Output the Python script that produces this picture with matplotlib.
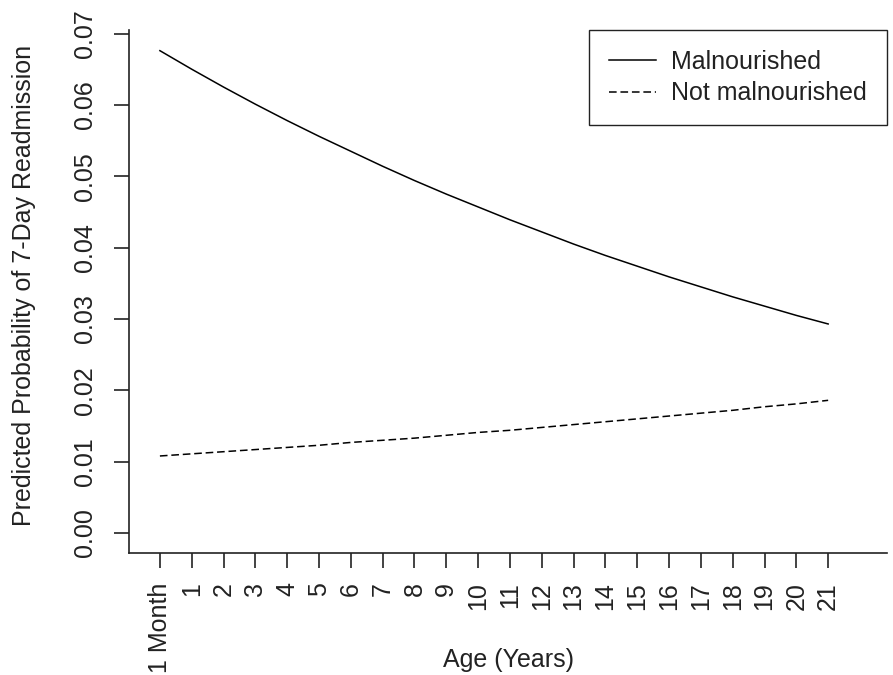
import numpy as np
import matplotlib
matplotlib.use("Agg")
import matplotlib.pyplot as plt

# Age categories on the x axis (1 Month, then 1..21 years)
age_labels = ["1 Month"] + [str(a) for a in range(1, 22)]

# Predicted probability of 7-day readmission
malnourished = [0.0676, 0.0650, 0.0625, 0.0601, 0.0578, 0.0556, 0.0535, 0.0514,
                0.0494, 0.0475, 0.0457, 0.0439, 0.0422, 0.0405, 0.0389, 0.0374,
                0.0359, 0.0345, 0.0331, 0.0318, 0.0305, 0.0293]
not_malnourished = [0.0108, 0.0111, 0.0114, 0.0117, 0.0120, 0.0123, 0.0127, 0.0130,
                    0.0133, 0.0137, 0.0141, 0.0144, 0.0148, 0.0152, 0.0156, 0.0160,
                    0.0164, 0.0168, 0.0172, 0.0177, 0.0181, 0.0186]

y_ticks = [0.00, 0.01, 0.02, 0.03, 0.04, 0.05, 0.06, 0.07]

plt.rcParams['font.family'] = ['Liberation Sans', 'DejaVu Sans']
txt = "#222222"
fs = 18

fig = plt.figure(figsize=(8.93, 6.75), dpi=100)
ax = fig.add_axes([0.1445, 0.1807, 0.9933 - 0.1445, 0.9556 - 0.1807])

x = np.arange(len(age_labels))
ax.plot(x, malnourished, color="black", lw=1.1, label="Malnourished")
ax.plot(x, not_malnourished, color="black", lw=1.1, ls=(0, (5, 2.5)), label="Not malnourished")

ax.set_xlim(-0.97, 22.85)
ax.set_ylim(-0.0028, 0.0705)

ax.spines["top"].set_visible(False)
ax.spines["right"].set_visible(False)
for s in ("left", "bottom"):
    ax.spines[s].set_linewidth(1.2)
    ax.spines[s].set_color("#222222")

ax.set_xticks(x)
ax.set_xticklabels(age_labels, rotation=90, color=txt, fontsize=fs)
ax.set_yticks(y_ticks)
ax.set_yticklabels(["%.2f" % v for v in y_ticks], rotation=90, va="center", color=txt, fontsize=fs)
ax.tick_params(axis="both", length=11, width=1.2, color="#222222")
ax.tick_params(axis="x", pad=10)
ax.tick_params(axis="y", pad=12)

fig.text(508 / 893, (675 - 667) / 675, "Age (Years)", fontsize=fs, color=txt,
         ha="center", va="baseline")
fig.text(36 / 893, (675 - 285) / 675, "Predicted Probability of 7-Day Readmission",
         fontsize=fs, color=txt, rotation=90, ha="center", va="bottom", rotation_mode="anchor")

leg = ax.legend(loc="upper right", bbox_to_anchor=(1.0, 1.0), borderaxespad=0,
                fancybox=False, framealpha=1, edgecolor="#222222", fontsize=fs,
                handlelength=1.9, handletextpad=0.6, borderpad=0.8, labelspacing=0.3)
leg.get_frame().set_linewidth(1.0)
for t in leg.get_texts():
    t.set_color(txt)

fig.savefig("out.png", dpi=100)
